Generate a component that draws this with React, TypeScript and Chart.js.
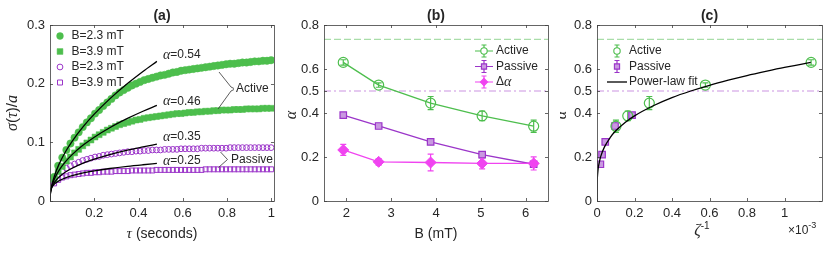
import React, { useEffect, useRef } from "react";
import { Chart, registerables } from "chart.js";
Chart.register(...registerables);

const SANS = '"Liberation Sans", Arial, sans-serif';
const SERIF = '"Liberation Serif", "DejaVu Serif", serif';
const TXT = "#262626";
const AXIS = "#404040";
const GREEN = "#4DBE4D";
const PURPLE = "#9B35C9";
const PURPLE_FILL = "#C999E0";
const MAGENTA = "#F044F0";
const GREEN_REF = "#A9DDA9";
const PURPLE_REF = "#DDB8EC";

// ---------- Panel (a) ----------
const TAU = [
  0.0185, 0.037, 0.0555, 0.074, 0.0925, 0.111, 0.1295, 0.148, 0.1665, 0.185,
  0.2035, 0.222, 0.2405, 0.259, 0.2775, 0.296, 0.3145, 0.333, 0.3515, 0.37,
  0.3885, 0.407, 0.4255, 0.444, 0.4625, 0.481, 0.4995, 0.518, 0.5365, 0.555,
  0.5735, 0.592, 0.6105, 0.629, 0.6475, 0.666, 0.6845, 0.703, 0.7215, 0.74,
  0.7585, 0.777, 0.7955, 0.814, 0.8325, 0.851, 0.8695, 0.888, 0.9065, 0.925,
  0.9435, 0.962, 0.9805, 0.999,
];
const ACTIVE_23 = [
  0.041, 0.06, 0.074, 0.087, 0.098, 0.108, 0.117, 0.126, 0.134, 0.141,
  0.149, 0.155, 0.162, 0.168, 0.174, 0.18, 0.185, 0.189, 0.193, 0.197,
  0.2, 0.203, 0.206, 0.208, 0.21, 0.212, 0.214, 0.215, 0.217, 0.219,
  0.22, 0.222, 0.223, 0.224, 0.225, 0.226, 0.227, 0.228, 0.229, 0.23,
  0.231, 0.232, 0.233, 0.234, 0.234, 0.235, 0.236, 0.236, 0.237, 0.238,
  0.238, 0.239, 0.239, 0.24,
];
const ACTIVE_39 = [
  0.037, 0.05, 0.059, 0.068, 0.075, 0.082, 0.088, 0.094, 0.099, 0.104,
  0.109, 0.113, 0.117, 0.121, 0.124, 0.127, 0.13, 0.132, 0.134, 0.136,
  0.138, 0.139, 0.141, 0.142, 0.143, 0.144, 0.145, 0.146, 0.147, 0.148,
  0.149, 0.149, 0.15, 0.151, 0.151, 0.152, 0.152, 0.153, 0.153, 0.154,
  0.154, 0.155, 0.155, 0.155, 0.156, 0.156, 0.156, 0.157, 0.157, 0.157,
  0.157, 0.158, 0.158, 0.158,
];
const PASSIVE_23 = [
  0.036, 0.045, 0.051, 0.056, 0.06, 0.063, 0.066, 0.069, 0.071, 0.073,
  0.075, 0.076, 0.078, 0.079, 0.08, 0.081, 0.082, 0.083, 0.084, 0.084,
  0.085, 0.085, 0.086, 0.086, 0.087, 0.087, 0.087, 0.088, 0.088, 0.088,
  0.088, 0.089, 0.089, 0.089, 0.089, 0.089, 0.09, 0.09, 0.09, 0.09,
  0.09, 0.09, 0.09, 0.091, 0.091, 0.091, 0.091, 0.091, 0.091, 0.091,
  0.091, 0.091, 0.091, 0.091,
];
const PASSIVE_39 = [
  0.03, 0.036, 0.04, 0.042, 0.044, 0.045, 0.046, 0.047, 0.048, 0.048,
  0.049, 0.049, 0.05, 0.05, 0.05, 0.051, 0.051, 0.051, 0.051, 0.052,
  0.052, 0.052, 0.052, 0.052, 0.052, 0.053, 0.053, 0.053, 0.053, 0.053,
  0.053, 0.053, 0.053, 0.053, 0.053, 0.053, 0.053, 0.054, 0.054, 0.054,
  0.054, 0.054, 0.054, 0.054, 0.054, 0.054, 0.054, 0.054, 0.054, 0.054,
  0.054, 0.054, 0.054, 0.054,
];
const FIT_TAU = [0, 0.001, 0.003, 0.006, 0.01, 0.02, 0.04, 0.07, 0.1, 0.15, 0.2, 0.27, 0.35, 0.42, 0.483];
const FIT_054 = [0, 0.0085, 0.0153, 0.0223, 0.0294, 0.0427, 0.062, 0.084, 0.1018, 0.1268, 0.148, 0.1741, 0.2003, 0.2209, 0.238];
const FIT_046 = [0, 0.0095, 0.0158, 0.0217, 0.0274, 0.0377, 0.0519, 0.0671, 0.0791, 0.0953, 0.1088, 0.1249, 0.1407, 0.153, 0.163];
const FIT_035 = [0, 0.0111, 0.0164, 0.0209, 0.0249, 0.0318, 0.0405, 0.0493, 0.0558, 0.0644, 0.0712, 0.0791, 0.0866, 0.0922, 0.097];
const FIT_025 = [0, 0.0137, 0.018, 0.0214, 0.0243, 0.0289, 0.0343, 0.0395, 0.0432, 0.0478, 0.0514, 0.0554, 0.0591, 0.0618, 0.064];
const A_X_TICKS = [0.2, 0.4, 0.6, 0.8, 1];
const A_Y_TICKS = [0, 0.1, 0.2, 0.3];
const A_LEGEND = ["B=2.3 mT", "B=3.9 mT", "B=2.3 mT", "B=3.9 mT"];
const A_ALPHA_LABELS = ["0.54", "0.46", "0.35", "0.25"];

// ---------- Panel (b) ----------
const B_FIELD = [1.93, 2.72, 3.88, 5.03, 6.18];
const ALPHA_ACTIVE = [0.63, 0.527, 0.445, 0.387, 0.34];
const ERR_ACTIVE = [0.012, 0.01, 0.03, 0.022, 0.028];
const ALPHA_PASSIVE = [0.39, 0.341, 0.269, 0.211, 0.167];
const ERR_PASSIVE = [0.008, 0.007, 0.008, 0.007, 0.008];
const DELTA_ALPHA = [0.232, 0.178, 0.175, 0.171, 0.171];
const ERR_DELTA = [0.025, 0.015, 0.038, 0.025, 0.03];
const REF_ACTIVE = 0.735;
const REF_PASSIVE = 0.5;
const B_X_TICKS = [2, 3, 4, 5, 6];
const ALPHA_Y_TICKS = [0, 0.2, 0.4, 0.5, 0.6, 0.8];

// ---------- Panel (c) ----------
const INV_ZETA_ACTIVE = [1.142, 0.578, 0.279, 0.164, 0.101];
const INV_ZETA_PASSIVE = [0.187, 0.096, 0.044, 0.027, 0.018];
const FIT_C_X = [0, 0.0005, 0.002, 0.005, 0.01, 0.02, 0.04, 0.07, 0.1, 0.15, 0.2, 0.3, 0.4, 0.5, 0.6, 0.7, 0.8, 0.9, 1.0, 1.1, 1.14];
const FIT_C_Y = [0, 0.072, 0.107, 0.138, 0.167, 0.203, 0.246, 0.288, 0.319, 0.357, 0.387, 0.433, 0.47, 0.5, 0.526, 0.549, 0.57, 0.589, 0.607, 0.623, 0.63];
const C_X_TICKS = [0, 0.2, 0.4, 0.6, 0.8, 1];

const pts = (xs: number[], ys: number[]) => xs.map((x, i) => ({ x, y: ys[i] }));
const fmt = (v: number) => String(+Number(v).toFixed(3));

function makeScales(xmin: number, xmax: number, xt: number[], ymin: number, ymax: number, yt: number[], yw: number, xh: number) {
  const tickFont = { family: SANS, size: 13 };
  return {
    x: {
      type: "linear", min: xmin, max: xmax,
      grid: { display: false, drawTicks: false }, border: { display: false },
      afterBuildTicks: (s: any) => { s.ticks = xt.map((v) => ({ value: v })); },
      afterFit: (s: any) => { s.height = xh; },
      ticks: { font: tickFont, color: TXT, padding: 5, maxRotation: 0, autoSkip: false, callback: (v: any) => fmt(v) },
    },
    y: {
      type: "linear", min: ymin, max: ymax,
      grid: { display: false, drawTicks: false }, border: { display: false },
      afterBuildTicks: (s: any) => { s.ticks = yt.map((v) => ({ value: v })); },
      afterFit: (s: any) => { s.width = yw; },
      ticks: { font: tickFont, color: TXT, padding: 5, autoSkip: false, callback: (v: any) => fmt(v) },
    },
  };
}

function drawBox(chart: any, xt: number[], yt: number[]) {
  const { ctx, chartArea: a, scales } = chart;
  ctx.save();
  ctx.strokeStyle = AXIS;
  ctx.lineWidth = 0.8;
  ctx.strokeRect(Math.round(a.left) + 0.5, Math.round(a.top) + 0.5, Math.round(a.right - a.left), Math.round(a.bottom - a.top));
  const L = 3;
  ctx.beginPath();
  xt.forEach((v) => {
    const x = Math.round(scales.x.getPixelForValue(v)) + 0.5;
    ctx.moveTo(x, a.bottom); ctx.lineTo(x, a.bottom - L);
    ctx.moveTo(x, a.top); ctx.lineTo(x, a.top + L);
  });
  yt.forEach((v) => {
    const y = Math.round(scales.y.getPixelForValue(v)) + 0.5;
    ctx.moveTo(a.left, y); ctx.lineTo(a.left + L, y);
    ctx.moveTo(a.right, y); ctx.lineTo(a.right - L, y);
  });
  ctx.stroke();
  ctx.restore();
}

function text(ctx: any, s: string, x: number, y: number, font: string, align = "left", color = TXT) {
  ctx.save();
  ctx.font = font;
  ctx.fillStyle = color;
  ctx.textAlign = align;
  ctx.textBaseline = "middle";
  ctx.fillText(s, x, y);
  ctx.restore();
}

function parts(ctx: any, list: [string, string, number][], x: number, y: number, color = TXT) {
  ctx.save();
  ctx.fillStyle = color;
  ctx.textBaseline = "middle";
  ctx.textAlign = "left";
  let cx = x;
  list.forEach(([s, f, dy]) => {
    ctx.font = f;
    ctx.fillText(s, cx, y + dy);
    cx += ctx.measureText(s).width;
  });
  ctx.restore();
  return cx;
}
function partsWidth(ctx: any, list: [string, string, number][]) {
  ctx.save();
  let w = 0;
  list.forEach(([s, f]) => { ctx.font = f; w += ctx.measureText(s).width; });
  ctx.restore();
  return w;
}
function partsCentered(ctx: any, list: [string, string, number][], cx: number, y: number) {
  const w = partsWidth(ctx, list);
  parts(ctx, list, cx - w / 2, y);
}

function marker(ctx: any, kind: string, x: number, y: number, r: number, stroke: string, fill: string | null, lw = 1) {
  ctx.save();
  ctx.beginPath();
  if (kind === "circle") ctx.arc(x, y, r, 0, Math.PI * 2);
  else if (kind === "rect") ctx.rect(x - r, y - r, 2 * r, 2 * r);
  else if (kind === "diamond") { ctx.moveTo(x, y - r); ctx.lineTo(x + r, y); ctx.lineTo(x, y + r); ctx.lineTo(x - r, y); ctx.closePath(); }
  if (fill) { ctx.fillStyle = fill; ctx.fill(); }
  ctx.strokeStyle = stroke; ctx.lineWidth = lw; ctx.stroke();
  ctx.restore();
}

function errBars(chart: any, xs: number[], ys: number[], es: number[], color: string, cap = 3) {
  const { ctx, scales } = chart;
  ctx.save();
  ctx.strokeStyle = color;
  ctx.lineWidth = 1.2;
  ctx.beginPath();
  xs.forEach((xv, i) => {
    const x = scales.x.getPixelForValue(xv);
    const y1 = scales.y.getPixelForValue(ys[i] - es[i]);
    const y2 = scales.y.getPixelForValue(ys[i] + es[i]);
    ctx.moveTo(x, y1); ctx.lineTo(x, y2);
    ctx.moveTo(x - cap, y1); ctx.lineTo(x + cap, y1);
    ctx.moveTo(x - cap, y2); ctx.lineTo(x + cap, y2);
  });
  ctx.stroke();
  ctx.restore();
}

function legendErrIcon(ctx: any, x: number, y: number, color: string, withLine: boolean, kind: string, fill: string | null, r: number) {
  ctx.save();
  ctx.strokeStyle = color;
  ctx.lineWidth = 1.2;
  ctx.beginPath();
  if (withLine) { ctx.moveTo(x - 9, y); ctx.lineTo(x + 9, y); }
  ctx.moveTo(x, y - 6); ctx.lineTo(x, y + 6);
  ctx.moveTo(x - 2.5, y - 6); ctx.lineTo(x + 2.5, y - 6);
  ctx.moveTo(x - 2.5, y + 6); ctx.lineTo(x + 2.5, y + 6);
  ctx.stroke();
  ctx.restore();
  marker(ctx, kind, x, y, r, color, fill, 1.1);
}

const ITAL = (n: number) => `italic ${n}px ${SERIF}`;
const SN = (n: number) => `${n}px ${SANS}`;

function refLine(value: number, xmin: number, xmax: number, color: string, dash: number[]) {
  return {
    data: [{ x: xmin, y: value }, { x: xmax, y: value }],
    showLine: true, borderColor: color, borderWidth: 1.3, borderDash: dash, pointRadius: 0, order: 5,
  };
}

function useChart(ref: any, cfg: () => any) {
  useEffect(() => {
    const c = new Chart(ref.current, cfg());
    return () => c.destroy();
  }, []);
}

function PanelA() {
  const ref = useRef<HTMLCanvasElement>(null);
  useChart(ref, () => ({
    type: "scatter",
    data: {
      datasets: [
        ...[FIT_054, FIT_046, FIT_035, FIT_025].map((f) => ({
          data: pts(FIT_TAU, f), showLine: true, borderColor: "#000", borderWidth: 1.3, pointRadius: 0, order: 0, cubicInterpolationMode: "monotone",
        })),
        { data: pts(TAU, ACTIVE_23), pointStyle: "circle", pointRadius: 3.7, backgroundColor: GREEN, borderColor: GREEN, borderWidth: 0.5, order: 2 },
        { data: pts(TAU, ACTIVE_39), pointStyle: "rect", pointRadius: 4.2, backgroundColor: GREEN, borderColor: GREEN, borderWidth: 0.5, order: 2 },
        { data: pts(TAU, PASSIVE_23), pointStyle: "circle", pointRadius: 2.9, backgroundColor: "rgba(0,0,0,0)", borderColor: PURPLE, borderWidth: 1, order: 2 },
        { data: pts(TAU, PASSIVE_39), pointStyle: "rect", pointRadius: 3.5, backgroundColor: "rgba(0,0,0,0)", borderColor: PURPLE, borderWidth: 1, order: 2 },
      ],
    },
    options: {
      responsive: false, animation: false,
      layout: { padding: { left: 0, right: 6, top: 25, bottom: 0 } },
      plugins: { legend: { display: false }, tooltip: { enabled: false } },
      scales: makeScales(0, 1.012, A_X_TICKS, 0, 0.3, A_Y_TICKS, 50, 52),
    },
    plugins: [{
      id: "decorA",
      afterDraw(chart: any) {
        const ctx = chart.ctx;
        drawBox(chart, A_X_TICKS, A_Y_TICKS);
        const a = chart.chartArea;
        const cx = (a.left + a.right) / 2;
        text(ctx, "(a)", cx, 16, `bold 14px ${SANS}`, "center");
        partsCentered(ctx, [["τ", ITAL(15), 0], [" (seconds)", SN(14), 0]], cx, 234);
        ctx.save();
        ctx.translate(13, (a.top + a.bottom) / 2);
        ctx.rotate(-Math.PI / 2);
        partsCentered(ctx, [["σ", ITAL(16), 0], ["(", SN(15), 0], ["τ", ITAL(16), 0], [")/", SN(15), 0], ["a", ITAL(16), 0]], 0, 0);
        ctx.restore();
        const rows = [36, 51.5, 67, 82.5];
        marker(ctx, "circle", 60, rows[0], 3.4, GREEN, GREEN, 0.5);
        marker(ctx, "rect", 60, rows[1], 2.9, GREEN, GREEN, 0.5);
        marker(ctx, "circle", 60, rows[2], 2.9, PURPLE, null, 1);
        marker(ctx, "rect", 60, rows[3], 2.5, PURPLE, null, 1);
        A_LEGEND.forEach((s, i) => text(ctx, s, 71.5, rows[i], SN(12)));
        const ay = [55, 101.5, 137, 161];
        A_ALPHA_LABELS.forEach((s, i) => parts(ctx, [["α", ITAL(14), 0], ["=" + s, SN(12), 0]], 163, ay[i]));
        ctx.save();
        ctx.strokeStyle = "#333";
        ctx.lineWidth = 0.8;
        ctx.beginPath();
        ctx.moveTo(219, 72); ctx.lineTo(231, 87); ctx.lineTo(234, 88.5);
        ctx.moveTo(234, 89.5); ctx.lineTo(231, 91); ctx.lineTo(218, 109);
        ctx.moveTo(220.5, 152); ctx.lineTo(227.5, 159.5);
        ctx.lineTo(218.5, 167.5);
        ctx.stroke();
        ctx.restore();
        text(ctx, "Active", 236, 89, SN(12));
        text(ctx, "Passive", 231, 160, SN(12));
      },
    }],
  }));
  return <canvas ref={ref} width={280} height={253} style={{ position: "absolute", left: 0, top: 0 }} />;
}

function PanelB() {
  const ref = useRef<HTMLCanvasElement>(null);
  useChart(ref, () => ({
    type: "scatter",
    data: {
      datasets: [
        { data: pts(B_FIELD, ALPHA_ACTIVE), showLine: true, borderColor: GREEN, borderWidth: 1.3, pointStyle: "circle", pointRadius: 5, backgroundColor: "rgba(0,0,0,0)", pointBorderWidth: 1.2, order: 1 },
        { data: pts(B_FIELD, ALPHA_PASSIVE), showLine: true, borderColor: PURPLE, borderWidth: 1.3, pointStyle: "rect", pointRadius: 4.6, backgroundColor: PURPLE_FILL, pointBorderWidth: 1.2, order: 2 },
        { data: pts(B_FIELD, DELTA_ALPHA), showLine: true, borderColor: MAGENTA, borderWidth: 1.3, pointStyle: "rectRot", pointRadius: 5.5, backgroundColor: MAGENTA, pointBorderWidth: 1, order: 1.5 },
        refLine(REF_ACTIVE, 1.5, 6.5, GREEN_REF, [7, 3]),
        refLine(REF_PASSIVE, 1.5, 6.5, PURPLE_REF, [7, 3, 2, 3]),
      ],
    },
    options: {
      responsive: false, animation: false,
      layout: { padding: { left: 0, right: 12, top: 25, bottom: 0 } },
      plugins: { legend: { display: false }, tooltip: { enabled: false } },
      scales: makeScales(1.5, 6.5, B_X_TICKS, 0, 0.8, ALPHA_Y_TICKS, 44, 52),
    },
    plugins: [{
      id: "decorB",
      beforeDatasetsDraw(chart: any) {
        errBars(chart, B_FIELD, ALPHA_ACTIVE, ERR_ACTIVE, GREEN);
        errBars(chart, B_FIELD, ALPHA_PASSIVE, ERR_PASSIVE, PURPLE);
        errBars(chart, B_FIELD, DELTA_ALPHA, ERR_DELTA, MAGENTA);
      },
      afterDraw(chart: any) {
        const ctx = chart.ctx;
        drawBox(chart, B_X_TICKS, ALPHA_Y_TICKS);
        const a = chart.chartArea;
        const cx = (a.left + a.right) / 2;
        text(ctx, "(b)", cx, 16, `bold 14px ${SANS}`, "center");
        text(ctx, "B (mT)", cx, 234, SN(14), "center");
        ctx.save();
        ctx.translate(12, (a.top + a.bottom) / 2 + 2);
        ctx.rotate(-Math.PI / 2);
        text(ctx, "α", 0, 0, ITAL(16), "center");
        ctx.restore();
        const rows = [51, 66.5, 82];
        legendErrIcon(ctx, 204, rows[0], GREEN, true, "circle", "#fff", 3.2);
        legendErrIcon(ctx, 204, rows[1], PURPLE, true, "rect", PURPLE_FILL, 2.6);
        legendErrIcon(ctx, 204, rows[2], MAGENTA, true, "diamond", MAGENTA, 3.6);
        text(ctx, "Active", 216, rows[0], SN(12));
        text(ctx, "Passive", 216, rows[1], SN(12));
        parts(ctx, [["Δ", SN(12), 0], ["α", ITAL(14), 0]], 216, rows[2]);
      },
    }],
  }));
  return <canvas ref={ref} width={280} height={253} style={{ position: "absolute", left: 280, top: 0 }} />;
}

function PanelC() {
  const ref = useRef<HTMLCanvasElement>(null);
  useChart(ref, () => ({
    type: "scatter",
    data: {
      datasets: [
        { data: pts(FIT_C_X, FIT_C_Y), showLine: true, borderColor: "#000", borderWidth: 1.3, pointRadius: 0, order: 0, cubicInterpolationMode: "monotone" },
        { data: pts(INV_ZETA_ACTIVE, ALPHA_ACTIVE), pointStyle: "circle", pointRadius: 5, backgroundColor: "rgba(0,0,0,0)", borderColor: GREEN, borderWidth: 1.2, order: 1 },
        { data: pts(INV_ZETA_PASSIVE, ALPHA_PASSIVE), pointStyle: "rect", pointRadius: 4.6, backgroundColor: PURPLE_FILL, borderColor: PURPLE, borderWidth: 1.2, order: 2 },
        refLine(REF_ACTIVE, 0, 1.2, GREEN_REF, [7, 3]),
        refLine(REF_PASSIVE, 0, 1.2, PURPLE_REF, [7, 3, 2, 3]),
      ],
    },
    options: {
      responsive: false, animation: false,
      layout: { padding: { left: 0, right: 8, top: 25, bottom: 0 } },
      plugins: { legend: { display: false }, tooltip: { enabled: false } },
      scales: makeScales(0, 1.2, C_X_TICKS, 0, 0.8, ALPHA_Y_TICKS, 37, 52),
    },
    plugins: [{
      id: "decorC",
      beforeDatasetsDraw(chart: any) {
        errBars(chart, INV_ZETA_ACTIVE, ALPHA_ACTIVE, ERR_ACTIVE, GREEN);
        errBars(chart, INV_ZETA_PASSIVE, ALPHA_PASSIVE, ERR_PASSIVE, PURPLE);
      },
      afterDraw(chart: any) {
        const ctx = chart.ctx;
        drawBox(chart, C_X_TICKS, ALPHA_Y_TICKS);
        const a = chart.chartArea;
        const cx = (a.left + a.right) / 2;
        text(ctx, "(c)", cx, 16, `bold 14px ${SANS}`, "center");
        partsCentered(ctx, [["ζ", ITAL(16), 0], ["-1", SN(10), -5]], 142, 231);
        parts(ctx, [["×10", SN(12), 0], ["-3", SN(9), -5]], 228, 231);
        ctx.save();
        ctx.translate(2, (a.top + a.bottom) / 2 + 2);
        ctx.rotate(-Math.PI / 2);
        text(ctx, "α", 0, 0, ITAL(16), "center");
        ctx.restore();
        const rows = [51, 66.5, 82];
        legendErrIcon(ctx, 57, rows[0], GREEN, false, "circle", "#fff", 3.2);
        legendErrIcon(ctx, 57, rows[1], PURPLE, false, "rect", PURPLE_FILL, 2.6);
        ctx.save();
        ctx.strokeStyle = "#000"; ctx.lineWidth = 1.3;
        ctx.beginPath(); ctx.moveTo(47, rows[2]); ctx.lineTo(67, rows[2]); ctx.stroke();
        ctx.restore();
        text(ctx, "Active", 69, rows[0], SN(12));
        text(ctx, "Passive", 69, rows[1], SN(12));
        text(ctx, "Power-law fit", 69, rows[2], SN(12));
      },
    }],
  }));
  return <canvas ref={ref} width={270} height={253} style={{ position: "absolute", left: 560, top: 0 }} />;
}

export default function App() {
  return (
    <div style={{ position: "fixed", left: 0, top: 0, width: 830, height: 253, background: "#fff", overflow: "hidden" }}>
      <PanelA />
      <PanelB />
      <PanelC />
    </div>
  );
}
